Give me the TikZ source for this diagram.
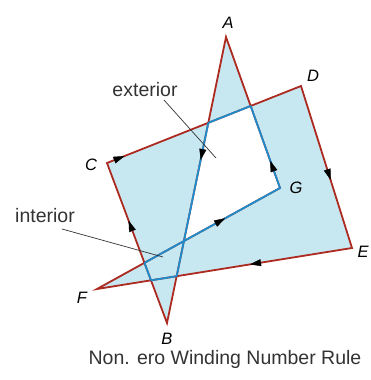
\documentclass[tikz,border=0pt]{standalone}
\usepackage{fontspec}
\setmainfont{Liberation Sans}
\usetikzlibrary{arrows.meta,decorations.markings}
\definecolor{edgered}{RGB}{172,42,32}
\definecolor{edgeblue}{RGB}{28,140,205}
\definecolor{fillblue}{RGB}{200,232,241}
\tikzset{
  midarrow/.style={postaction={decorate},decoration={markings,
      mark=at position #1 with {\arrow{Triangle[length=11pt,width=7pt]}}}},
  redline/.style={draw=edgered,line width=1.8pt,line join=miter},
  blueline/.style={draw=edgeblue,line width=1.8pt},
  vlabel/.style={font=\fontsize{16.5}{16.5}\selectfont\itshape},
  wlabel/.style={font=\fontsize{19.5}{19.5}\selectfont,text=black!80},
  leader/.style={draw=black!80,line width=0.7pt}
}
\begin{document}
\begin{tikzpicture}[x=1pt,y=-1pt]
\useasboundingbox (0,0) rectangle (370,380);
\coordinate (A) at (226,37);
\coordinate (B) at (167,323);
\coordinate (C) at (107,163);
\coordinate (D) at (301,86);
\coordinate (E) at (352,248);
\coordinate (F) at (97,289);
\coordinate (G) at (280,188);
% fill (nonzero rule)
\fill[fillblue,nonzero rule] (A) -- (B) -- (C) -- (D) -- (E) -- (F) -- (G) -- cycle;
% intersections
\coordinate (ABxCD) at (intersection of A--B and C--D);
\coordinate (ABxEF) at (intersection of A--B and E--F);
\coordinate (BCxEF) at (intersection of B--C and E--F);
\coordinate (BCxFG) at (intersection of B--C and F--G);
\coordinate (GAxCD) at (intersection of G--A and C--D);
% red outline
\draw[redline] (A) -- (B) -- (C) -- (D) -- (E) -- (F) -- (G) -- cycle;
% blue interior segments
\draw[blueline] (ABxCD) -- (ABxEF);
\draw[blueline] (BCxFG) -- (BCxEF);
\draw[blueline] (ABxEF) -- (BCxEF);
\draw[blueline] (ABxCD) -- (GAxCD);
\draw[blueline,line join=miter] (BCxFG) -- (G) -- (GAxCD);
% arrows
\path[midarrow=0.43] (A) -- (B);
\path[midarrow=0.64] (B) -- (C);
\path[midarrow=0.09] (C) -- (D);
\path[midarrow=0.58] (D) -- (E);
\path[midarrow=0.40] (E) -- (F);
\path[midarrow=0.70] (F) -- (G);
\path[midarrow=0.18] (G) -- (A);
% vertex labels
\node[vlabel] (lA) at (228,23) {A};
\node[vlabel] (lB) at (167,339) {B};
\node[vlabel] (lC) at (91,165) {C};
\node[vlabel] (lD) at (313,76) {D};
\node[vlabel] (lE) at (363,252) {E};
\node[vlabel] (lF) at (82,298) {F};
\node[vlabel] (lG) at (296,188) {G};
% region labels
\node[wlabel] (ext) at (145,90) {exterior};
\node[wlabel] (int) at (45,216) {interior};
\coordinate (extp) at (216,158);
\coordinate (intp) at (163,257);
\draw[leader] (164,100) -- (extp);
\draw[leader] (62,229) -- (intp);
% caption
\node[font=\fontsize{19.5}{19.5}\selectfont,text=black!80,anchor=base] (cap) at (225,364) {Non. ero Winding Number Rule};
\end{tikzpicture}
\end{document}
